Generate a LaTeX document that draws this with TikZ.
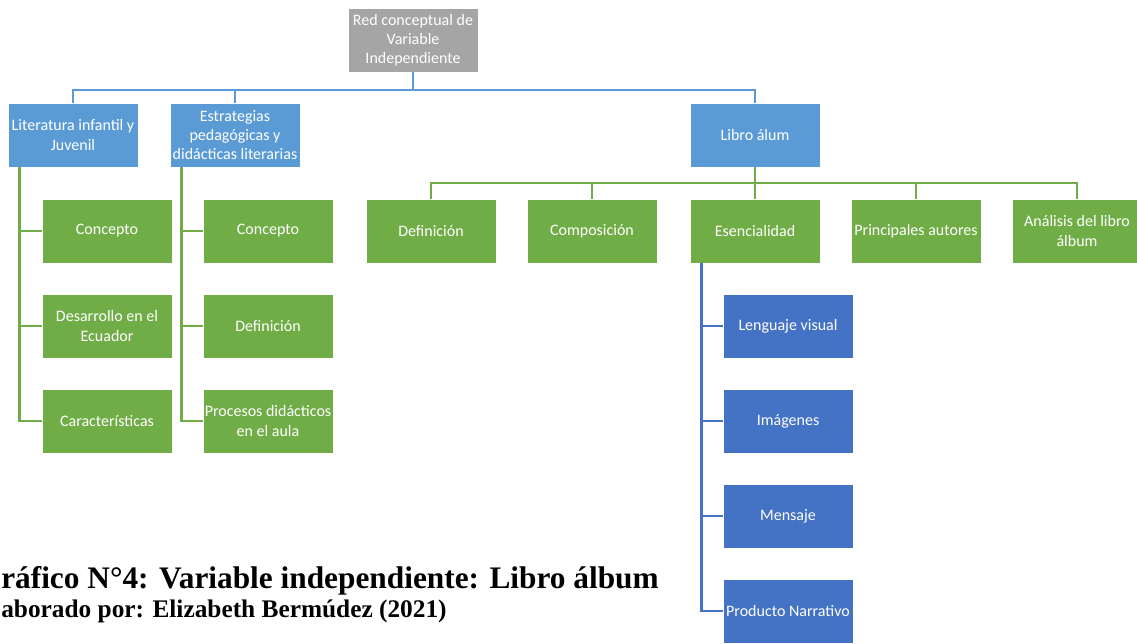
\documentclass[tikz,border=0pt]{standalone}
\usepackage{fontspec}
\setmainfont{Carlito}
\newfontfamily\capfont{Liberation Serif}
\usepackage{xcolor}
\usepackage{tikz}
\definecolor{rootgray}{HTML}{A5A5A5}
\definecolor{lightblue}{HTML}{5B9BD5}
\definecolor{leafgreen}{HTML}{70AD47}
\definecolor{darkblue}{HTML}{4472C4}
\tikzset{
    box/.style = {align=center, inner sep=0.5pt, text centered, rectangle, draw=white, thin, text=white, font=\fontsize{12}{14.3}\selectfont, minimum width=97.5pt, minimum height=48pt},
    gray_box/.style = {box, fill=rootgray},
    blue_box/.style = {box, fill=lightblue},
    green_box/.style = {box, fill=leafgreen},
    dblue_box/.style = {box, fill=darkblue},
    blue_link/.style = {draw=lightblue, line width=2.2pt},
    green_link/.style = {draw=leafgreen, line width=2.2pt},
    dblue_link/.style = {draw=darkblue, line width=2.2pt}
}

\begin{document}
\begin{tikzpicture}[x=0.75pt, y=-0.75pt]
    \useasboundingbox (0,0) rectangle (1137,643);
    % root and first level
    \node [gray_box] (root) at (413,40) {Red conceptual de\\Variable\\Independiente};
    \node [blue_box] (lit) at (73,135) {Literatura infantil y\\Juvenil};
    \node [blue_box] (estr) at (235,135) {Estrategias\\pedagógicas y\\didácticas literarias};
    \node [blue_box] (libro) at (755,135) {Libro álum};
    \coordinate (bus1) at (0,90);
    \coordinate (bus2) at (0,183);
    % literatura
    \node [green_box] (lc1) at (107,231) {Concepto};
    \node [green_box] (lc2) at (107,326) {Desarrollo en el\\Ecuador};
    \node [green_box] (lc3) at (107,421) {Características};
    % estrategias
    \node [green_box] (ec1) at (268,231) {Concepto};
    \node [green_box] (ec2) at (268,326) {Definición};
    \node [green_box] (ec3) at (268,421) {Procesos didácticos\\en el aula};
    % libro album
    \node [green_box] (ld1) at (431,231) {Definición};
    \node [green_box] (ld2) at (592,231) {Composición};
    \node [green_box] (ld3) at (755,231) {Esencialidad};
    \node [green_box] (ld4) at (916,231) {Principales autores};
    \node [green_box] (ld5) at (1077,231) {Análisis del libro\\álbum};
    % esencialidad
    \node [dblue_box] (es1) at (788,326) {Lenguaje visual};
    \node [dblue_box] (es2) at (788,421) {Imágenes};
    \node [dblue_box] (es3) at (788,516) {Mensaje};
    \node [dblue_box] (es4) at (788,611) {Producto Narrativo};

    \draw [blue_link] (root.south) -- (root.south |- bus1) -| (lit.north);
    \draw [blue_link] (root.south) -- (root.south |- bus1) -| (estr.north);
    \draw [blue_link] (root.south) -- (root.south |- bus1) -| (libro.north);
    \foreach \c in {lc1,lc2,lc3}
        \draw [green_link] ([xshift=9pt]lit.south west) |- (\c.west);
    \foreach \c in {ec1,ec2,ec3}
        \draw [green_link] ([xshift=9pt]estr.south west) |- (\c.west);
    \foreach \c in {ld1,ld2,ld3,ld4,ld5}
        \draw [green_link] (libro.south) -- (libro.south |- bus2) -| (\c.north);
    \foreach \c in {es1,es2,es3,es4}
        \draw [dblue_link] ([xshift=9pt]ld3.south west) |- (\c.west);

    % caption
    \node [anchor=base west, inner sep=0pt, font=\capfont\bfseries\fontsize{23.5}{26}\selectfont] (cap1) at (1,588) {ráfico N°4: Variable independiente: Libro álbum};
    \node [anchor=base west, inner sep=0pt, font=\capfont\bfseries\fontsize{19}{21}\selectfont] (cap2) at (1,617) {aborado por: Elizabeth Bermúdez (2021)};
\end{tikzpicture}
\end{document}
